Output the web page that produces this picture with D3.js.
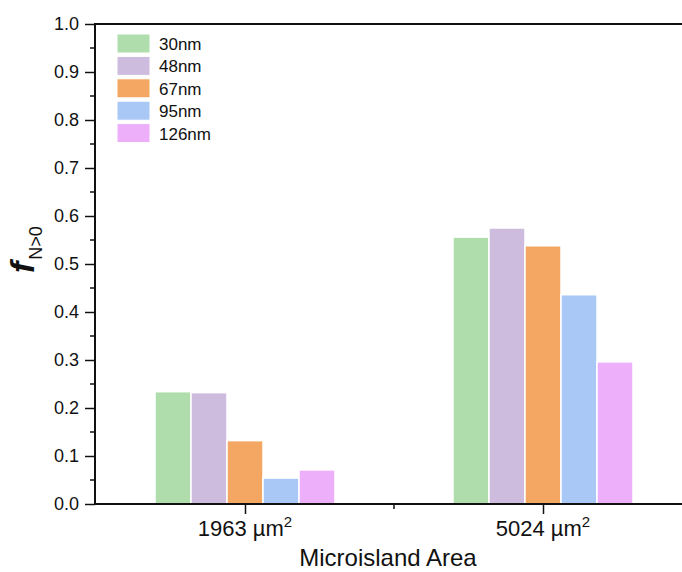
<!DOCTYPE html>
<html>
<head>
<meta charset="utf-8">
<script src="https://cdn.jsdelivr.net/npm/d3@7"></script>
<style>
  body { margin: 0; background: #fff; }
  svg { display: block; font-family: Arial, "Liberation Sans", sans-serif; }
</style>
</head>
<body>
<svg id="chart" width="682" height="572"></svg>
<script>
// data
const areas = ['1963', '5024'];
const sizes = ['30nm', '48nm', '67nm', '95nm', '126nm'];
const colors = ['#afdeac', '#cdbcde', '#f4a663', '#a9c8f5', '#edaefa'];
const vals1963 = [0.234, 0.232, 0.132, 0.054, 0.071];
const vals5024 = [0.556, 0.575, 0.538, 0.436, 0.296];
const yTicks = [0, 0.1, 0.2, 0.3, 0.4, 0.5, 0.6, 0.7, 0.8, 0.9, 1.0];

const rows = [vals1963, vals5024];

const svg = d3.select('#chart');
const plotLeft = 95, plotTop = 24, plotBottom = 504;

// x is the category index, 1 and 2, with half a unit of room either side
const x = d3.scaleLinear().domain([0.5, 2.5]).range([96, 692]);
const y = d3.scaleLinear().domain([0, 1]).range([plotBottom, plotTop]);
// position of each series inside a group, in px around the group centre
const sub = d3.scaleBand().domain(sizes).range([-90, 90]);

// bars
const g = svg.append('g');
areas.forEach((a, ai) => {
  g.selectAll(null)
    .data(sizes.map((s, si) => ({ s, si, v: rows[ai][si] })))
    .join('rect')
    .attr('x', d => x(ai + 1) + sub(d.s))
    .attr('width', sub.bandwidth())
    .attr('y', d => y(d.v))
    .attr('height', d => y(0) - y(d.v))
    .attr('fill', d => colors[d.si])
    .attr('stroke', '#fff')
    .attr('stroke-width', 1.5);
});

// y axis, major ticks
const yAxis = d3.axisLeft(y).tickValues(yTicks).tickFormat(d3.format('.1f'))
  .tickSize(10).tickPadding(6);
const ya = svg.append('g').attr('transform', `translate(${plotLeft},0)`).call(yAxis);
ya.select('.domain').remove();
ya.selectAll('.tick line').attr('stroke', '#111').attr('stroke-width', 1.5);
ya.selectAll('.tick text').attr('font-size', 18).attr('fill', '#111')
  .attr('font-family', 'Arial, "Liberation Sans", sans-serif');

// y minor ticks
const yMinor = d3.range(0.05, 1, 0.1);
svg.append('g').selectAll('line').data(yMinor).join('line')
  .attr('x1', plotLeft - 5).attr('x2', plotLeft)
  .attr('y1', d => y(d)).attr('y2', d => y(d))
  .attr('stroke', '#111').attr('stroke-width', 1.5);

// x axis
const xAxis = d3.axisBottom(x).tickValues([1, 2]).tickFormat(() => '').tickSize(10);
const xa = svg.append('g').attr('transform', `translate(0,${plotBottom})`).call(xAxis);
xa.select('.domain').remove();
xa.selectAll('.tick line').attr('stroke', '#111').attr('stroke-width', 1.5);
svg.append('line')
  .attr('x1', x(1.5)).attr('x2', x(1.5))
  .attr('y1', plotBottom).attr('y2', plotBottom + 5)
  .attr('stroke', '#111').attr('stroke-width', 1.5);

// x tick labels with superscript
areas.forEach((a, ai) => {
  const t = svg.append('text')
    .attr('x', x(ai + 1)).attr('y', 536)
    .attr('text-anchor', 'middle')
    .attr('font-size', 22).attr('fill', '#111');
  t.append('tspan').text(a + ' \u00b5m');
  t.append('tspan').attr('dy', -9).attr('font-size', 15).text('2');
});

// frame
svg.append('path')
  .attr('d', `M${plotLeft},${plotBottom}V${plotTop}H682M${plotLeft},${plotBottom}H682`)
  .attr('fill', 'none').attr('stroke', '#111').attr('stroke-width', 2);

// axis titles
svg.append('text')
  .attr('x', 388).attr('y', 566)
  .attr('text-anchor', 'middle')
  .attr('font-size', 24).attr('fill', '#111')
  .text('Microisland Area');

const yl = svg.append('text')
  .attr('transform', 'translate(34,273) rotate(-90)')
  .attr('fill', '#111');
yl.append('tspan').attr('font-size', 34).attr('font-weight', 'bold')
  .attr('font-style', 'italic').text('f');
yl.append('tspan').attr('font-size', 18).attr('dy', 8).attr('dx', 2).text('N>0');

// legend
const leg = svg.append('g').attr('transform', 'translate(117,34)');
const item = leg.selectAll('g').data(sizes).join('g')
  .attr('transform', (d, i) => `translate(0,${i * 22.4})`);
item.append('rect')
  .attr('width', 33).attr('height', 19)
  .attr('fill', (d, i) => colors[i])
  .attr('stroke', '#fff').attr('stroke-width', 1);
item.append('text')
  .attr('x', 42).attr('y', 16)
  .attr('font-size', 17).attr('fill', '#111')
  .text(d => d);
</script>
</body>
</html>
